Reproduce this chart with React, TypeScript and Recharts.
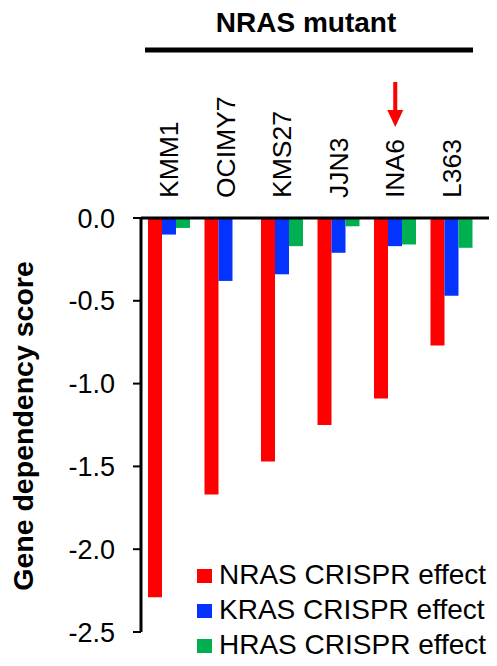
import React from "react";
import { Bar, BarChart, Customized, Legend, XAxis, YAxis } from "recharts";

const cellLines = ["KMM1", "OCIMY7", "KMS27", "JJN3", "INA6", "L363"];
const nrasEffect = [-2.29, -1.67, -1.47, -1.25, -1.09, -0.77];
const krasEffect = [-0.1, -0.38, -0.34, -0.21, -0.17, -0.47];
const hrasEffect = [-0.06, 0, -0.17, -0.05, -0.16, -0.18];
const seriesNames = ["NRAS CRISPR effect", "KRAS CRISPR effect", "HRAS CRISPR effect"];
const yTicks = [0, -0.5, -1, -1.5, -2, -2.5];
const highlighted = "INA6";

const FONT = "'Liberation Sans', Arial, sans-serif";

const data = cellLines.map((line, i) => ({
  line,
  nras: nrasEffect[i],
  kras: krasEffect[i],
  hras: hrasEffect[i],
}));

function CellLineTick(props: any) {
  const { x, payload } = props;
  const y = 198;
  return (
    <g>
      {payload.value === highlighted && (
        <g fill="#FF0000">
          <rect x={x - 2} y={82} width={4} height={30} />
          <polygon points={`${x - 8},110 ${x + 8},110 ${x},127`} />
        </g>
      )}
      <text
        x={x}
        y={y}
        dy={9}
        transform={`rotate(-90, ${x}, ${y})`}
        textAnchor="start"
        fontSize={26.5}
        fontFamily={FONT}
        fill="#000"
      >
        {payload.value}
      </text>
    </g>
  );
}

function Annotations() {
  return (
    <g fontFamily={FONT}>
      <text x={306} y={32} textAnchor="middle" fontSize={28} fontWeight="bold" fill="#000">
        NRAS mutant
      </text>
      <rect x={145} y={47.5} width={328} height={5} fill="#000" />
      <text
        x={33}
        y={426}
        transform="rotate(-90, 33, 426)"
        textAnchor="middle"
        fontSize={28.5}
        fontWeight="bold"
        fill="#000"
      >
        Gene dependency score
      </text>
    </g>
  );
}

function renderLegend(props: any) {
  const items = [...(props.payload || [])].sort(
    (a: any, b: any) => seriesNames.indexOf(a.value) - seriesNames.indexOf(b.value)
  );
  return (
    <svg width={300} height={100} style={{ display: "block" }}>
      {items.map((item: any, i: number) => (
        <g key={item.value}>
          <rect x={0} y={9 + i * 35} width={15} height={14} fill={item.color} />
          <text x={22} y={24 + i * 35} fontSize={28} fontFamily={FONT} fill="#000">
            {item.value}
          </text>
        </g>
      ))}
    </svg>
  );
}

export default function App() {
  return (
    <div style={{ position: "fixed", left: 0, top: 0, background: "#fff" }}>
      <BarChart
        width={497}
        height={666}
        data={data}
        margin={{ top: 188, right: 8, bottom: 34, left: 0 }}
        barCategoryGap={7}
        barGap={0}
      >
        <XAxis
          dataKey="line"
          orientation="top"
          height={30}
          interval={0}
          axisLine={{ stroke: "#000", strokeWidth: 3 }}
          tickLine={false}
          tick={<CellLineTick />}
          padding={{ left: 0, right: 9 }}
        />
        <YAxis
          type="number"
          domain={[-2.5, 0]}
          ticks={yTicks}
          interval={0}
          width={141}
          tickSize={8}
          tickMargin={18}
          tickFormatter={(v: number) => v.toFixed(1)}
          axisLine={{ stroke: "#000", strokeWidth: 3 }}
          tickLine={{ stroke: "#000", strokeWidth: 2 }}
          tick={{ fontSize: 27, fill: "#000", fontFamily: FONT }}
        />
        <Bar dataKey="nras" name={seriesNames[0]} fill="#FF0000" isAnimationActive={false} />
        <Bar dataKey="kras" name={seriesNames[1]} fill="#0433FF" isAnimationActive={false} />
        <Bar dataKey="hras" name={seriesNames[2]} fill="#00B050" isAnimationActive={false} />
        <Legend
          layout="vertical"
          align="center"
          verticalAlign="middle"
          content={renderLegend}
          wrapperStyle={{ left: 197, top: 560, width: 300, height: 100 }}
        />
        <Customized component={<Annotations />} />
      </BarChart>
    </div>
  );
}
